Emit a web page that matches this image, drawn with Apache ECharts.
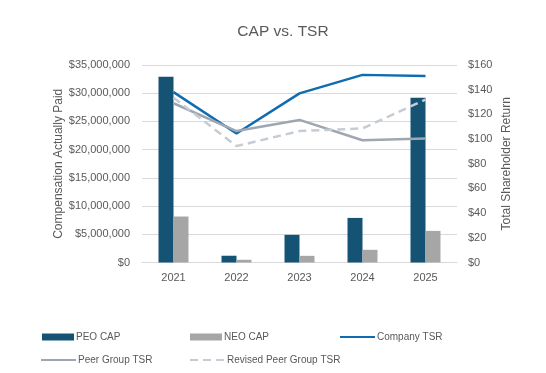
<!DOCTYPE html>
<html>
<head>
<meta charset="utf-8">
<script src="https://cdn.jsdelivr.net/npm/echarts@6/dist/echarts.min.js"></script>
<style>html,body{margin:0;padding:0;background:#fff}#c{width:546px;height:373px}</style>
</head>
<body>
<div id="c"></div>
<script>
const years = ['2021', '2022', '2023', '2024', '2025'];
const peoCap = [32900000, 1200000, 4900000, 7900000, 29200000];
const neoCap = [8150000, 480000, 1180000, 2250000, 5600000];
const companyTSR = [138, 104.5, 137, 152, 151];
const peerTSR = [129, 106.5, 115.5, 99, 100.5];
const revisedPeerTSR = [133.5, 94.3, 106.5, 108.6, 132];

const FONT = 'Liberation Sans, Arial, sans-serif';
const TXT = '#595959';
const chart = echarts.init(document.getElementById('c'), null, {renderer: 'canvas'});

function legendAt(name, left, top, isBar) {
  const lg = {
    data: [isBar ? {name: name, icon: 'rect'} : name],
    left: left, top: top, itemWidth: isBar ? 32 : 35, itemHeight: 7, itemGap: 0,
    textStyle: {color: TXT, fontSize: 10, fontFamily: FONT, padding: [0, 0, 0, -3]},
    padding: 0
  };
  if (!isBar) lg.itemStyle = {opacity: 0};
  return lg;
}

chart.setOption({
  animation: false,
  title: {
    text: 'CAP vs. TSR', left: 278, top: 19, textAlign: 'center',
    textStyle: {color: TXT, fontSize: 15.5, fontWeight: 'normal', fontFamily: FONT}
  },
  legend: [
    legendAt('PEO CAP', 42, 332, true),
    legendAt('NEO CAP', 190, 332, true),
    legendAt('Company TSR', 339, 332, false),
    legendAt('Peer Group TSR', 40, 355, false),
    legendAt('Revised Peer Group TSR', 189, 355, false)
  ],
  grid: {left: 142, right: 89, top: 65, bottom: 110.5},
  xAxis: {
    type: 'category', data: years,
    axisLine: {lineStyle: {color: '#d9d9d9'}},
    axisTick: {show: false},
    axisLabel: {color: TXT, fontSize: 11, fontFamily: FONT, margin: 10}
  },
  yAxis: [
    {
      type: 'value', min: 0, max: 35000000, interval: 5000000,
      name: 'Compensation Actually Paid', nameLocation: 'middle', nameGap: 77,
      nameMoveOverlap: false,
      nameTextStyle: {color: TXT, fontSize: 12, fontFamily: FONT},
      axisLabel: {
        color: TXT, fontSize: 11, fontFamily: FONT, margin: 12,
        formatter: v => '$' + v.toLocaleString('en-US')
      },
      splitLine: {lineStyle: {color: '#d9d9d9'}},
      axisLine: {show: false}, axisTick: {show: false}
    },
    {
      type: 'value', min: 0, max: 160, interval: 20,
      name: 'Total Shareholder Return', nameLocation: 'middle', nameGap: 44,
      nameMoveOverlap: false,
      nameTextStyle: {color: TXT, fontSize: 12, fontFamily: FONT},
      axisLabel: {color: TXT, fontSize: 11, fontFamily: FONT, margin: 11, formatter: v => '$' + v},
      splitLine: {show: false}, axisLine: {show: false}, axisTick: {show: false}
    }
  ],
  series: [
    {name: 'PEO CAP', type: 'bar', data: peoCap, barWidth: 15, barGap: '0%',
     itemStyle: {color: '#145374'}},
    {name: 'NEO CAP', type: 'bar', data: neoCap, barWidth: 15,
     itemStyle: {color: '#a6a6a6'}},
    {name: 'Company TSR', type: 'line', yAxisIndex: 1, data: companyTSR,
     symbol: 'none', lineStyle: {color: '#0f6cb0', width: 2.5}, itemStyle: {color: '#0f6cb0'}},
    {name: 'Peer Group TSR', type: 'line', yAxisIndex: 1, data: peerTSR,
     symbol: 'none', lineStyle: {color: '#9ea7b0', width: 2.5}, itemStyle: {color: '#9ea7b0'}},
    {name: 'Revised Peer Group TSR', type: 'line', yAxisIndex: 1, data: revisedPeerTSR,
     symbol: 'none', lineStyle: {color: '#c5ccd3', width: 2.5, type: [8, 5]}, itemStyle: {color: '#c5ccd3'}}
  ]
});
</script>
</body>
</html>
